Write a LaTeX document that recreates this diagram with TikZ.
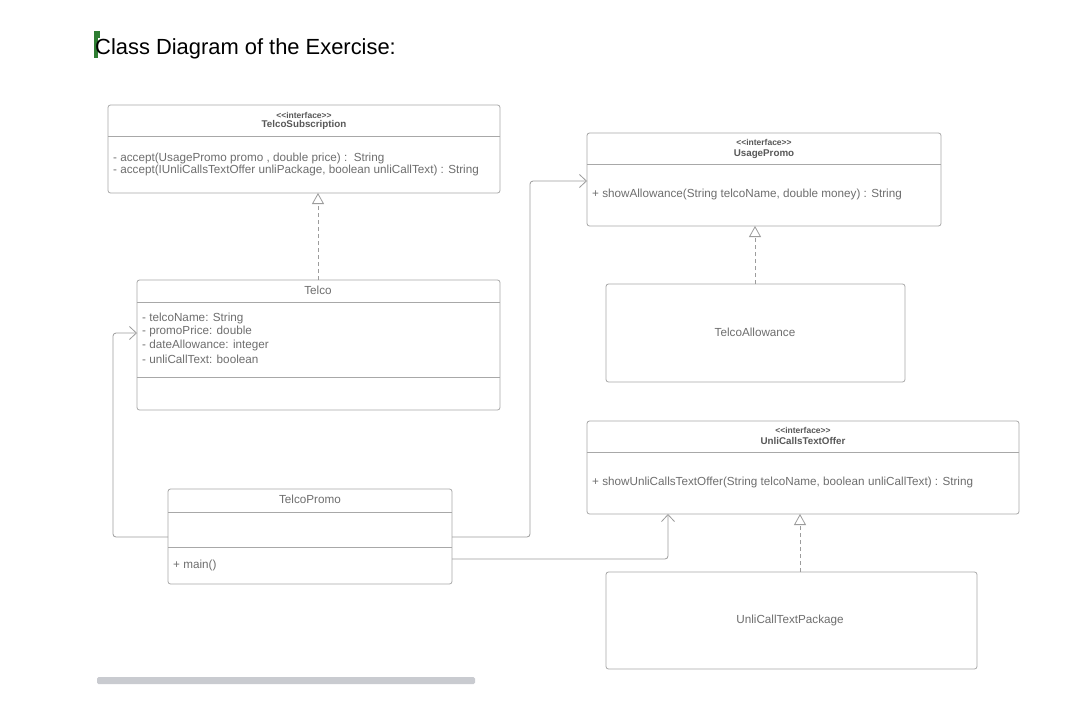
\documentclass[tikz,border=0pt]{standalone}
\usepackage{fontspec}
\setmainfont{Liberation Sans}
\usetikzlibrary{arrows.meta}
\definecolor{linegray}{HTML}{9C9C9C}
\definecolor{boxgray}{HTML}{A8A8A8}
\definecolor{txtgray}{HTML}{6E6E6E}
\definecolor{bargray}{HTML}{C9CBD0}
\definecolor{flag}{HTML}{2E7D32}
\newcommand{\stereotxt}{{<}{<}interface{>}{>}}
\begin{document}
\begin{tikzpicture}[x=1pt,y=-1pt,
  umlbox/.style={draw=boxgray, line width=0.8pt, rounded corners=2.5pt, anchor=north west, inner sep=0pt, outer sep=0pt},
  divline/.style={draw=boxgray, line width=0.8pt},
  txt/.style={text=txtgray, inner sep=0pt, font=\fontsize{11.7}{13}\selectfont},
  ltxt/.style={txt, anchor=west},
  stereo/.style={text=txtgray!80!black, inner sep=0pt, font=\fontsize{8.5}{9}\selectfont\bfseries},
  cname/.style={text=txtgray!80!black, inner sep=0pt, font=\fontsize{9.8}{10}\selectfont\bfseries},
  realize/.style={draw=linegray, line width=0.8pt, dash pattern=on 4pt off 3pt, -{Triangle[open, length=11pt, width=12pt, line width=0.8pt]}},
  assoc/.style={draw=linegray, line width=0.8pt, rounded corners=3pt, -{Straight Barb[length=7pt, width=13pt, line width=0.8pt]}}
]
\useasboundingbox[fill=white] (0,0) rectangle (1083,715);

% title
\fill[flag] (94,31) rectangle (97.5,58);
\fill[flag] (94,31) rectangle (100,38);
\node[anchor=base west, inner sep=0pt, font=\fontsize{21.9}{24}\selectfont] (title) at (95,54) {Class Diagram of the Exercise:};

% TelcoSubscription
\node[umlbox, minimum width=392pt, minimum height=88pt] (ts) at (108,105) {};
\draw[divline] (ts.west |- 0,136) -- (ts.east |- 0,136);
\node[stereo] (tsst) at (304,115) {\stereotxt};
\node[cname] (tsn) at (304,125) {TelcoSubscription};
\node[ltxt] (tsm1) at (113,158) {- accept(UsagePromo promo , double price) :\ \ String};
\node[ltxt] (tsm2) at (113,170) {- accept(IUnliCallsTextOffer unliPackage, boolean unliCallText) : String};

% UsagePromo
\node[umlbox, minimum width=354pt, minimum height=93pt] (up) at (587,133) {};
\draw[divline] (up.west |- 0,164) -- (up.east |- 0,164);
\node[stereo] (upst) at (764,142) {\stereotxt};
\node[cname] (upn) at (764,154) {UsagePromo};
\node[ltxt] (upm) at (592,194) {+ showAllowance(String telcoName, double money) : String};

% Telco
\node[umlbox, minimum width=363pt, minimum height=130pt] (tc) at (137,280) {};
\draw[divline] (tc.west |- 0,302) -- (tc.east |- 0,302);
\draw[divline] (tc.west |- 0,377) -- (tc.east |- 0,377);
\node[txt] (tcn) at (318,290) {Telco};
\node[ltxt] (tca1) at (142,318) {- telcoName: String};
\node[ltxt] (tca2) at (142,331) {- promoPrice: double};
\node[ltxt] (tca3) at (142,345) {- dateAllowance: integer};
\node[ltxt] (tca4) at (142,359) {- unliCallText: boolean};

% TelcoAllowance
\node[umlbox, minimum width=299pt, minimum height=98pt] (ta) at (606,284) {};
\node[txt] (tan) at (755,332) {TelcoAllowance};

% UnliCallsTextOffer
\node[umlbox, minimum width=432pt, minimum height=93pt] (uo) at (587,421) {};
\draw[divline] (uo.west |- 0,452) -- (uo.east |- 0,452);
\node[stereo] (uost) at (803,430) {\stereotxt};
\node[cname] (uon) at (803,441) {UnliCallsTextOffer};
\node[ltxt] (uom) at (592,482) {+ showUnliCallsTextOffer(String telcoName, boolean unliCallText) : String};

% TelcoPromo
\node[umlbox, minimum width=284pt, minimum height=95pt] (tp) at (168,489) {};
\draw[divline] (tp.west |- 0,512) -- (tp.east |- 0,512);
\draw[divline] (tp.west |- 0,547) -- (tp.east |- 0,547);
\node[txt] (tpn) at (310,499) {TelcoPromo};
\node[ltxt] (tpm) at (173,565) {+ main()};

% UnliCallTextPackage
\node[umlbox, minimum width=371pt, minimum height=97pt] (pk) at (606,572) {};
\node[txt] (pkn) at (790,620) {UnliCallTextPackage};

% realizations
\draw[realize] (tc.north -| 318,0) -- (ts.south -| 318,0);
\draw[realize] (ta.north -| 755,0) -- (up.south -| 755,0);
\draw[realize] (pk.north -| 800,0) -- (uo.south -| 800,0);

% associations
\draw[assoc] (tp.west |- 0,537) -- (113,537) -- (113,333) -- (tc.west |- 0,333);
\draw[assoc] (tp.east |- 0,537) -- (530,537) -- (530,181) -- (up.west |- 0,181);
\draw[assoc] (tp.east |- 0,559) -- (668,559) -- (uo.south -| 668,0);

% scrollbar
\fill[bargray, rounded corners=1.5pt] (97,677) rectangle (475,684);
\end{tikzpicture}
\end{document}
